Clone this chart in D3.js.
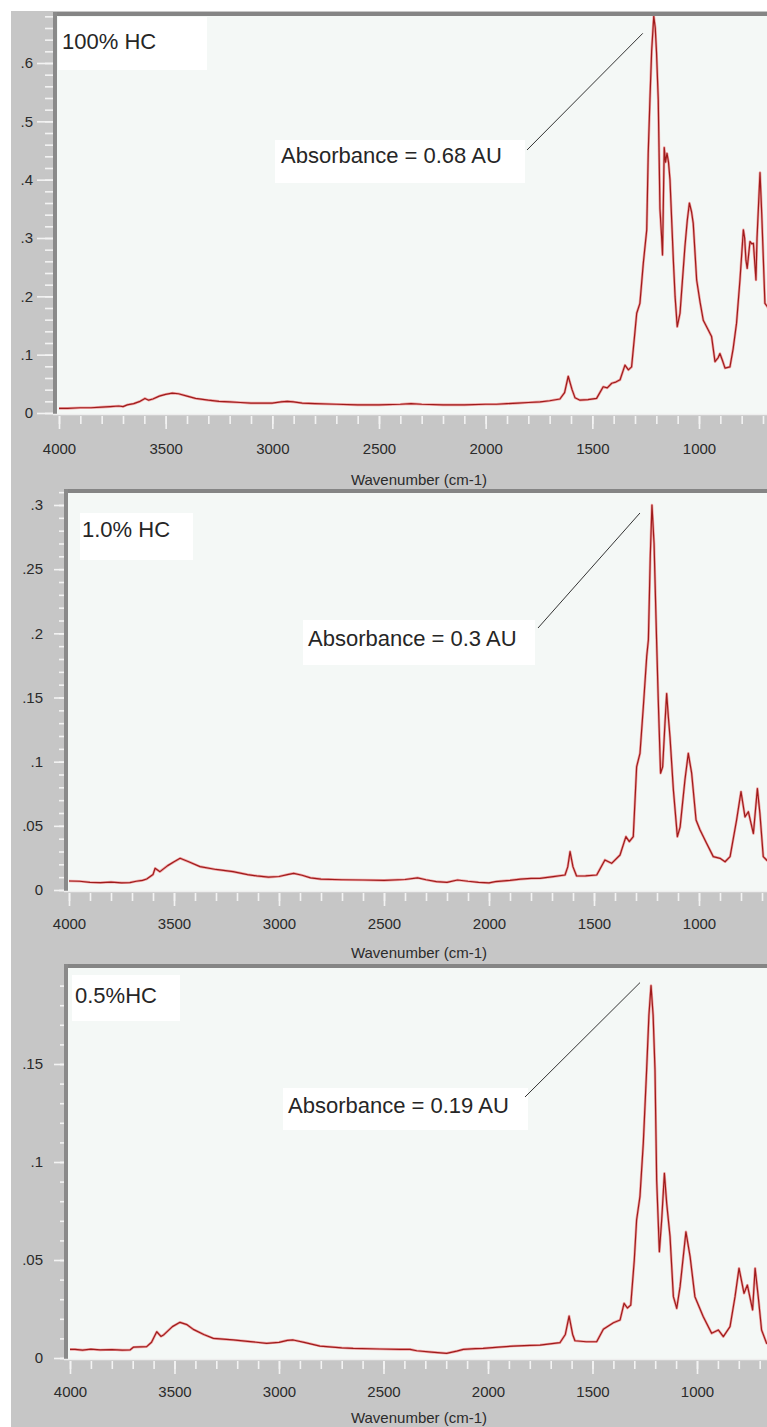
<!DOCTYPE html>
<html>
<head>
<meta charset="utf-8">
<script src="https://cdn.jsdelivr.net/npm/d3@7"></script>
<style>
  html, body { margin: 0; padding: 0; background: #ffffff; }
  svg { display: block; }
  text { font-family: "Liberation Sans", Arial, sans-serif; }
</style>
</head>
<body>
<div id="chart"></div>
<script>
// ---- FTIR absorbance spectra (wavenumber in cm-1, absorbance in AU) ----
const wave100 = [4000,3960,3900,3850,3800,3760,3720,3700,3680,3650,3620,3597,3580,3560,3530,3500,3470,3440,3400,3360,3300,3250,3200,3150,3100,3050,3000,2960,2930,2900,2860,2800,2700,2600,2500,2400,2350,2300,2200,2100,2000,1950,1900,1850,1800,1745,1700,1652,1630,1613,1595,1581,1558,1520,1480,1449,1430,1409,1390,1370,1347,1331,1316,1300,1292,1277,1261,1245,1238,1230,1222,1212,1205,1199,1191,1183,1175,1171,1163,1157,1150,1143,1136,1120,1112,1102,1089,1066,1055,1045,1035,1027,1011,995,980,956,941,925,910,902,890,878,855,840,824,808,792,786,780,774,761,752,745,733,728,722,714,706,691,681,660];
const abs100 = [0.008,0.008,0.009,0.009,0.010,0.011,0.012,0.011,0.014,0.016,0.020,0.025,0.022,0.024,0.029,0.032,0.034,0.033,0.029,0.025,0.022,0.020,0.019,0.018,0.017,0.017,0.017,0.019,0.020,0.019,0.017,0.016,0.015,0.014,0.014,0.015,0.016,0.015,0.014,0.014,0.015,0.015,0.016,0.017,0.018,0.019,0.021,0.024,0.035,0.063,0.040,0.026,0.022,0.023,0.025,0.045,0.043,0.051,0.053,0.057,0.082,0.074,0.079,0.140,0.171,0.188,0.257,0.314,0.445,0.537,0.620,0.680,0.660,0.617,0.537,0.350,0.300,0.271,0.455,0.430,0.445,0.430,0.400,0.260,0.199,0.148,0.171,0.285,0.330,0.360,0.345,0.325,0.228,0.190,0.159,0.142,0.131,0.088,0.095,0.102,0.090,0.077,0.079,0.110,0.154,0.228,0.314,0.300,0.262,0.248,0.294,0.290,0.291,0.228,0.300,0.348,0.412,0.342,0.188,0.183,0.170];

const wave10 = [4000,3950,3900,3850,3800,3750,3710,3680,3650,3630,3600,3590,3567,3530,3500,3471,3430,3376,3300,3219,3150,3106,3050,3000,2960,2930,2890,2850,2800,2700,2600,2500,2400,2340,2300,2250,2200,2150,2100,2050,2000,1970,1900,1850,1800,1757,1694,1638,1625,1614,1600,1583,1540,1487,1448,1416,1376,1348,1332,1313,1297,1281,1265,1249,1241,1232,1224,1214,1202,1194,1183,1173,1162,1154,1146,1138,1122,1103,1090,1067,1051,1035,1014,995,964,932,900,876,852,821,800,781,765,741,722,710,694,676,660];
const abs10 = [0.0070,0.0068,0.0060,0.0057,0.0062,0.0056,0.0058,0.0068,0.0075,0.0086,0.0120,0.0169,0.0143,0.0190,0.0220,0.0247,0.0220,0.0182,0.0160,0.0143,0.0120,0.0110,0.0100,0.0105,0.0120,0.0130,0.0115,0.0095,0.0085,0.0080,0.0078,0.0075,0.0082,0.0095,0.0080,0.0065,0.0060,0.0078,0.0068,0.0060,0.0055,0.0065,0.0075,0.0085,0.0090,0.0091,0.0104,0.0117,0.0180,0.0299,0.0180,0.0109,0.0110,0.0117,0.0234,0.0208,0.0273,0.0416,0.0377,0.0416,0.0960,0.1065,0.1430,0.1820,0.1950,0.2600,0.3000,0.2700,0.1950,0.1480,0.0910,0.0960,0.1300,0.1530,0.1350,0.1190,0.0780,0.0416,0.0490,0.0857,0.1065,0.0910,0.0545,0.0468,0.0364,0.0260,0.0247,0.0220,0.0260,0.0545,0.0766,0.0570,0.0610,0.0440,0.0790,0.0597,0.0260,0.0230,0.0220];

const wave05 = [4000,3976,3940,3900,3856,3800,3750,3713,3697,3633,3610,3585,3565,3553,3510,3474,3440,3410,3360,3314,3219,3150,3059,3000,2960,2932,2880,2804,2700,2645,2517,2421,2373,2341,2270,2198,2150,2118,2060,2023,1950,1879,1800,1751,1656,1630,1612,1595,1584,1530,1480,1448,1400,1368,1349,1333,1317,1300,1289,1273,1257,1241,1230,1220,1210,1201,1193,1180,1169,1156,1145,1129,1113,1097,1081,1053,1033,1010,970,930,898,874,842,818,799,775,759,734,722,707,691,667,650];
const abs05 = [0.0044,0.0044,0.0040,0.0045,0.0041,0.0043,0.0040,0.0041,0.0055,0.0058,0.0080,0.0134,0.0110,0.0117,0.0160,0.0182,0.0170,0.0146,0.0120,0.0100,0.0092,0.0085,0.0075,0.0080,0.0090,0.0092,0.0080,0.0061,0.0052,0.0049,0.0046,0.0044,0.0044,0.0037,0.0030,0.0024,0.0035,0.0044,0.0048,0.0049,0.0055,0.0061,0.0064,0.0066,0.0078,0.0120,0.0214,0.0120,0.0088,0.0083,0.0083,0.0147,0.0180,0.0194,0.0279,0.0255,0.0270,0.0500,0.0704,0.0823,0.1095,0.1470,0.1750,0.1900,0.1750,0.1470,0.0908,0.0542,0.0704,0.0942,0.0789,0.0619,0.0313,0.0253,0.0364,0.0644,0.0517,0.0313,0.0211,0.0126,0.0143,0.0109,0.0160,0.0313,0.0458,0.0330,0.0372,0.0245,0.0458,0.0313,0.0143,0.0075,0.0070];

// tick values
const xTickLabels = [4000, 3500, 3000, 2500, 2000, 1500, 1000];
const yTicks100 = [0, 0.1, 0.2, 0.3, 0.4, 0.5, 0.6];
const yTicks10 = [0, 0.05, 0.1, 0.15, 0.2, 0.25, 0.3];
const yTicks05 = [0, 0.05, 0.1, 0.15];

// sample names and peak annotations
const sampleNames = ["100% HC", "1.0% HC", "0.5%HC"];
const peakWave = [1212, 1224, 1220];
const peakAbs = [0.68, 0.3, 0.19];
const peakNotes = ["Absorbance = 0.68 AU", "Absorbance = 0.3 AU", "Absorbance = 0.19 AU"];

// ---- layout of the three stacked panels ----
const layouts = [
  { frameLeft: 53, frameTop: 12, axisY: 414, xA: 59, xB: 699, y0: 413, yRef: 0.6, yRefPx: 63,
    yAxisX: 55, majorY: 18, minorY: 10, padY: 4, yMinorStep: 0.02, xPad: 14.6, xTitleY: 485,
    legend: { x: 58, y: 17, w: 149, h: 53, tx: 62, ty: 49 },
    note: { x: 275, y: 140, w: 250, h: 43, tx: 281, ty: 163, lx: 527, ly: 150, dx: -11, dy: 17 } },
  { frameLeft: 64, frameTop: 489, axisY: 891, xA: 69, xB: 699, y0: 890, yRef: 0.3, yRefPx: 505,
    yAxisX: 66, majorY: 12, minorY: 7, padY: 11, yMinorStep: 0.01, xPad: 12.6, xTitleY: 958,
    legend: { x: 80, y: 513, w: 113, h: 47, tx: 82, ty: 537 },
    note: { x: 303, y: 620, w: 232, h: 45, tx: 308, ty: 646, lx: 538, ly: 628, dx: -12, dy: 8 } },
  { frameLeft: 64, frameTop: 964, axisY: 1359, xA: 70, xB: 697, y0: 1358, yRef: 0.15, yRefPx: 1064,
    yAxisX: 67, majorY: 13, minorY: 7, padY: 11, yMinorStep: 0.01, xPad: 12.6, xTitleY: 1423,
    legend: { x: 72, y: 975, w: 108, h: 46, tx: 75, ty: 1003 },
    note: { x: 283, y: 1088, w: 245, h: 42, tx: 288, ty: 1113, lx: 525, ly: 1097, dx: -11, dy: -3 } }
];

const spectra = [
  { wave: wave100, abs: abs100, yTicks: yTicks100 },
  { wave: wave10, abs: abs10, yTicks: yTicks10 },
  { wave: wave05, abs: abs05, yTicks: yTicks05 }
];

const W = 767, H = 1427, RIGHT = 800;
const svg = d3.select("#chart").append("svg").attr("width", W).attr("height", H);

// window background
svg.append("rect").attr("width", W).attr("height", H).attr("fill", "#ffffff");
svg.append("rect").attr("x", 11).attr("y", 11).attr("width", W - 11).attr("height", H - 11).attr("fill", "#c6c6c6");

const yFmt = d => d === 0 ? "0" : d3.format(".2~f")(d).replace(/^0/, "");

spectra.forEach((s, i) => {
  const L = layouts[i];
  const g = svg.append("g");

  const x = d3.scaleLinear().domain([4000, 1000]).range([L.xA, L.xB]);
  const y = d3.scaleLinear().domain([0, L.yRef]).range([L.y0, L.yRefPx]);

  // plot area
  g.append("rect").attr("x", L.frameLeft).attr("y", L.frameTop)
    .attr("width", RIGHT - L.frameLeft).attr("height", L.axisY - L.frameTop)
    .attr("fill", "#f4f8f6");

  // y axis (major + minor ticks)
  const yMinorVals = d3.range(0, L.yRef * 1.4 + 1e-9, L.yMinorStep)
    .filter(v => y(v) > L.frameTop + 2);
  const yMinor = g.append("g").attr("transform", `translate(${L.yAxisX},0)`)
    .call(d3.axisLeft(y).tickValues(yMinorVals).tickSize(L.minorY).tickFormat(""));
  const yMajor = g.append("g").attr("transform", `translate(${L.yAxisX},0)`)
    .call(d3.axisLeft(y).tickValues(s.yTicks).tickSize(L.majorY).tickPadding(L.padY).tickFormat(yFmt));

  // x axis (major + minor ticks)
  const xMinorVals = d3.range(4000, 500, -100);
  const xMinor = g.append("g").attr("transform", `translate(0,${L.axisY + 2})`)
    .call(d3.axisBottom(x).tickValues(xMinorVals).tickSize(8).tickFormat(""));
  const xMajor = g.append("g").attr("transform", `translate(0,${L.axisY + 2})`)
    .call(d3.axisBottom(x).tickValues(xTickLabels).tickSize(13).tickPadding(L.xPad).tickFormat(d3.format("d")));

  [yMinor, yMajor, xMinor, xMajor].forEach(a => {
    a.select(".domain").remove();
    a.selectAll(".tick line").attr("stroke", "#f3f3f3").attr("stroke-width", 1.6);
    a.selectAll(".tick text").attr("fill", "#2b2b2b").attr("font-size", 15)
      .attr("font-family", '"Liberation Sans", Arial, sans-serif');
  });

  // frame: dark top/left edges, light bottom edge
  g.append("rect").attr("x", L.frameLeft).attr("y", L.frameTop)
    .attr("width", RIGHT - L.frameLeft).attr("height", 4).attr("fill", "#858585");
  g.append("rect").attr("x", L.frameLeft).attr("y", L.frameTop)
    .attr("width", 4).attr("height", L.axisY - L.frameTop).attr("fill", "#8a8a8a");
  g.append("line").attr("x1", L.frameLeft).attr("x2", RIGHT)
    .attr("y1", L.axisY + 0.5).attr("y2", L.axisY + 0.5)
    .attr("stroke", "#eeeeee").attr("stroke-width", 1.5);

  // spectrum trace, clipped to the plot interior
  const clipId = "clip" + i;
  svg.append("defs").append("clipPath").attr("id", clipId).append("rect")
    .attr("x", L.frameLeft + 4).attr("y", L.frameTop + 4)
    .attr("width", RIGHT).attr("height", L.axisY - L.frameTop - 4);

  const pts = s.wave.map((w, k) => [w, s.abs[k]]);
  const line = d3.line().x(d => x(d[0])).y(d => y(d[1]));
  const trace = g.append("g").attr("clip-path", `url(#${clipId})`);
  trace.append("path").datum(pts).attr("d", line).attr("fill", "none")
    .attr("stroke", "#f0a3a3").attr("stroke-width", 2.6).attr("stroke-linejoin", "round");
  trace.append("path").datum(pts).attr("d", line).attr("fill", "none")
    .attr("stroke", "#9e1b1b").attr("stroke-width", 1.2).attr("stroke-linejoin", "round");

  // sample label
  g.append("rect").attr("x", L.legend.x).attr("y", L.legend.y)
    .attr("width", L.legend.w).attr("height", L.legend.h).attr("fill", "#ffffff");
  g.append("text").attr("x", L.legend.tx).attr("y", L.legend.ty)
    .attr("font-size", 22).attr("fill", "#262626").text(sampleNames[i]);

  // peak annotation with leader line
  const N = L.note;
  g.append("rect").attr("x", N.x).attr("y", N.y).attr("width", N.w).attr("height", N.h)
    .attr("fill", "#ffffff");
  g.append("text").attr("x", N.tx).attr("y", N.ty)
    .attr("font-size", 22).attr("fill", "#262626").text(peakNotes[i]);
  g.append("line").attr("x1", N.lx).attr("y1", N.ly)
    .attr("x2", x(peakWave[i]) + N.dx).attr("y2", y(peakAbs[i]) + N.dy)
    .attr("stroke", "#333333").attr("stroke-width", 1);

  // x axis title
  g.append("text").attr("x", 419).attr("y", L.xTitleY).attr("text-anchor", "middle")
    .attr("font-size", 15).attr("fill", "#2b2b2b").text("Wavenumber (cm-1)");
});
</script>
</body>
</html>
